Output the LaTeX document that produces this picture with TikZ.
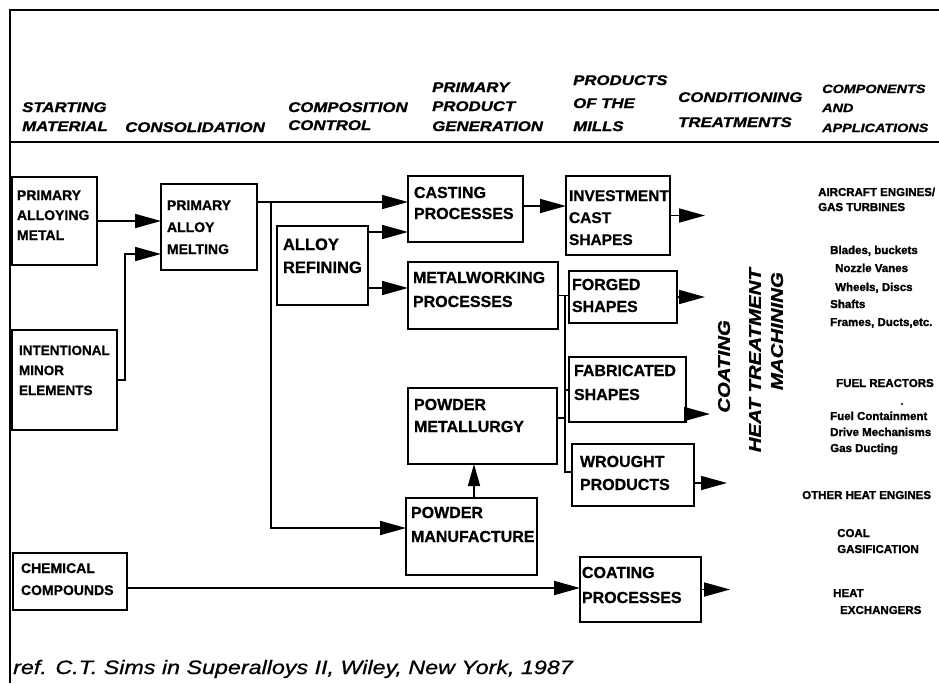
\documentclass[tikz,border=0pt]{standalone}
\usepackage{fontspec}
\setmainfont{Liberation Sans}
\newfontfamily\hdrfont{Liberation Sans}[FakeStretch=1.2, BoldItalicFeatures={FakeBold=1.2}, ItalicFeatures={FakeBold=0.8}]
\newfontfamily\boxfont{Liberation Sans}[BoldFeatures={FakeBold=0.8}]
\newfontfamily\appfont{Liberation Sans}[BoldFeatures={FakeBold=1.5}]
\usetikzlibrary{arrows.meta,calc}
% width, height, size, skip, first baseline, left pad, text
\newcommand{\bxt}[7]{\parbox[c][#2pt][t]{#1pt}{\fontsize{#3}{#4}\boxfont\bfseries\raggedright\leftskip=#6pt\relax\rule{0pt}{#5pt}#7}}
\begin{document}
\begin{tikzpicture}[x=1pt,y=-1pt,
  box/.style={draw, line width=1.6pt, inner sep=0pt, outer sep=0pt, anchor=north west},
  ln/.style={line width=1.7pt},
  arr/.style={line width=1.7pt, -{Triangle[length=26pt,width=14pt]}},
  arrv/.style={line width=1.7pt, -{Triangle[length=22pt,width=12pt]}},
  hdr/.style={anchor=base west, inner sep=0pt, font=\hdrfont\bfseries\itshape\fontsize{14}{16}\selectfont},
  hdrs/.style={anchor=base west, inner sep=0pt, font=\hdrfont\bfseries\itshape\fontsize{12}{14}\selectfont},
  vt/.style={rotate=90, anchor=east, inner sep=0pt, font=\hdrfont\bfseries\itshape\fontsize{17}{20}\selectfont},
  app/.style={anchor=base west, inner sep=0pt, font=\appfont\bfseries\fontsize{11.5}{13}\selectfont},
  sub/.style={anchor=base west, inner sep=0pt, font=\appfont\bfseries\fontsize{11.5}{13}\selectfont},
]
\useasboundingbox (0,0) rectangle (939,683);
\fill[white] (0,0) rectangle (939,683);
% frame
\coordinate (ftl) at (10,10); \coordinate (ftr) at (939,10); \coordinate (fbl) at (10,683);
\coordinate (rl) at (10,142); \coordinate (rr) at (939,142);
\draw[ln] (fbl) -- (ftl) -- (ftr);
\draw[ln] (rl) -- (rr);
% headers
\node[hdr] (h1a) at (22,112) {STARTING};
\node[hdr] (h1b) at (22,131) {MATERIAL};
\node[hdr] (h2) at (125,132) {CONSOLIDATION};
\node[hdr] (h3a) at (288,112) {COMPOSITION};
\node[hdr] (h3b) at (288,130) {CONTROL};
\node[hdr] (h4a) at (432,92) {PRIMARY};
\node[hdr] (h4b) at (432,111) {PRODUCT};
\node[hdr] (h4c) at (432,131) {GENERATION};
\node[hdr] (h5a) at (573,85) {PRODUCTS};
\node[hdr] (h5b) at (573,108) {OF THE};
\node[hdr] (h5c) at (573,131) {MILLS};
\node[hdr] (h6a) at (678,102) {CONDITIONING};
\node[hdr] (h6b) at (678,127) {TREATMENTS};
\node[hdrs] (h7a) at (822,93) {COMPONENTS};
\node[hdrs] (h7b) at (822,112) {AND};
\node[hdrs] (h7c) at (822,132) {APPLICATIONS};
% boxes
\node[box] (pam) at (12,177) {\bxt{85}{88}{14}{20}{23}{5}{PRIMARY\\ALLOYING\\METAL}};
\node[box] (ime) at (12,330) {\bxt{105}{100}{13.5}{20}{25}{7}{INTENTIONAL\\MINOR\\ELEMENTS}};
\node[box] (pamelt) at (161,184) {\bxt{96}{86}{14}{22}{26}{6}{PRIMARY\\ALLOY\\MELTING}};
\node[box] (refine) at (277,226) {\bxt{91}{79}{16.5}{23}{24}{6}{ALLOY\\REFINING}};
\node[box] (cast) at (408,176) {\bxt{115}{66}{16}{21}{22}{6}{CASTING\\PROCESSES}};
\node[box] (metal) at (408,262) {\bxt{150}{67}{16}{24}{21}{5}{METALWORKING\\PROCESSES}};
\node[box] (pmet) at (408,388) {\bxt{149}{76}{16}{22}{22}{6}{POWDER\\METALLURGY}};
\node[box] (pman) at (406,498) {\bxt{131}{77}{16}{24}{20}{5}{POWDER\\MANUFACTURE}};
\node[box] (inv) at (566,176) {\bxt{104}{79}{15.5}{22}{25}{3}{INVESTMENT\\CAST\\SHAPES}};
\node[box] (forged) at (569,271) {\bxt{108}{52}{16}{22}{19}{3}{FORGED\\SHAPES}};
\node[box] (fab) at (569,357) {\bxt{117}{65}{16}{24}{19}{5}{FABRICATED\\SHAPES}};
\node[box] (wrought) at (572,444) {\bxt{122}{62}{16}{23}{23}{8}{WROUGHT\\PRODUCTS}};
\node[box] (coatp) at (580,557) {\bxt{121}{65}{16}{25}{21}{2}{COATING\\PROCESSES}};
\node[box] (chem) at (13,553) {\bxt{114}{57}{14}{22}{20}{8}{CHEMICAL\\COMPOUNDS}};
% connectors
\draw[arr] (pam.east) -- (pam.east -| pamelt.west);
\draw[arr] (ime.east) -- ++(8,0) |- ($(pamelt.south west)+(0,-16)$);
\coordinate (m1) at ($(pamelt.north east)+(0,18)$);
\coordinate (j1) at ($(m1)+(14,0)$);
\draw[arr] (m1) -- (m1 -| cast.west);
\draw[arr] (j1) |- ($(pman.north west)+(0,30)$);
\coordinate (r1) at ($(refine.north east)+(0,6)$);
\coordinate (r2) at ($(refine.north east)+(0,62)$);
\draw[arr] (r1) -- (r1 -| cast.west);
\draw[arr] (r2) -- (r2 -| metal.west);
\coordinate (c1) at ($(cast.north east)+(0,30)$);
\draw[arr] (c1) -- (c1 -| inv.west);
\coordinate (v1) at (474,0);
\draw[arrv] (pman.north -| v1) -- (pmet.south -| v1);
% bus to mills
\coordinate (bx) at (565,0);
\draw[ln] (metal.east) -- (metal.east -| forged.west);
\draw[ln] (metal.east -| bx) |- ($(wrought.north west)+(0,28)$);
\coordinate (p1) at ($(pmet.north east)+(0,30)$);
\draw[ln] (p1) -- (p1 -| bx);
\coordinate (f1) at ($(fab.north west)+(0,33)$);
\draw[ln] (f1 -| bx) -- (f1);
% outputs
\coordinate (o1) at (705,0);
\coordinate (o2) at (710,0);
\coordinate (o3) at (727,0);
\coordinate (o4) at (730,0);
\draw[arr] (inv.east) -- (inv.east -| o1);
\draw[arr] (forged.east) -- (forged.east -| o1);
\coordinate (fo) at ($(fab.south east)+(0,-8)$);
\draw[arr] (fo) -- (fo -| o2);
\coordinate (wo) at ($(wrought.south east)+(0,-23)$);
\draw[arr] (wo) -- (wo -| o3);
\draw[arr] (coatp.east) -- (coatp.east -| o4);
\coordinate (ch) at ($(chem.south east)+(0,-22)$);
\draw[arr] (ch) -- (ch -| coatp.west);
% conditioning treatments
\node[vt] (tcoat) at (724,320) {COATING};
\node[vt] (theat) at (755,268) {HEAT TREATMENT};
\node[vt] (tmach) at (777,272) {MACHINING};
% components and applications
\node[app] (a1) at (818,196) {AIRCRAFT ENGINES/};
\node[app] (a2) at (818,211) {GAS TURBINES};
\node[sub] (a3) at (830,254) {Blades, buckets};
\node[sub] (a4) at (835,272) {Nozzle Vanes};
\node[sub] (a5) at (835,291) {Wheels, Discs};
\node[sub] (a6) at (830,308) {Shafts};
\node[sub] (a7) at (830,326) {Frames, Ducts,etc.};
\node[app] (b1) at (836,387) {FUEL REACTORS};
\fill (902,404) circle (1.1);
\node[sub] (b2) at (830,420) {Fuel Containment};
\node[sub] (b3) at (830,436) {Drive Mechanisms};
\node[sub] (b4) at (830,452) {Gas Ducting};
\node[app] (e1) at (802,499) {OTHER HEAT ENGINES};
\node[app] (e2) at (837,537) {COAL};
\node[app] (e3) at (837,553) {GASIFICATION};
\node[app] (e4) at (833,597) {HEAT};
\node[app] (e5) at (840,614) {EXCHANGERS};
% reference
\node[anchor=base west, inner sep=0pt, font=\hdrfont\itshape\fontsize{19.4}{22}\selectfont] (ref) at (13,674) {ref. C.T. Sims in Superalloys II, Wiley, New York, 1987};
\end{tikzpicture}
\end{document}
